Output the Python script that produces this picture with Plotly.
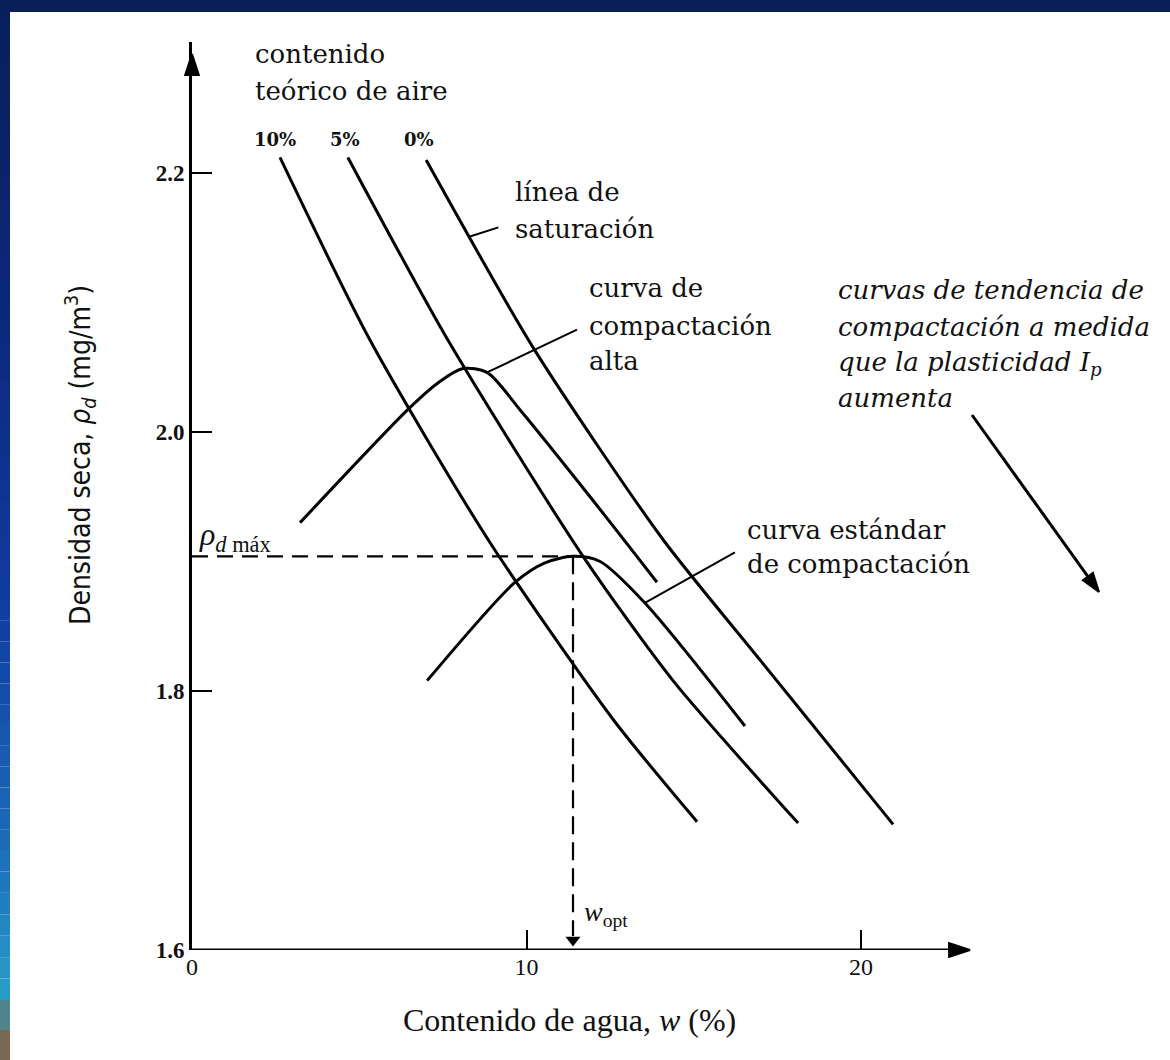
import plotly.graph_objects as go

W, H = 1170, 1060

# ---------------- data ----------------
# theoretical air-content lines (w %, rho_d Mg/m3)
w_air10 = [2.63, 5.32, 8.85, 12.59, 15.10]
rho_air10 = [2.212, 2.071, 1.917, 1.778, 1.699]
w_air5 = [4.66, 7.65, 11.69, 14.38, 18.12]
rho_air5 = [2.212, 2.071, 1.904, 1.808, 1.698]
w_air0 = [7.00, 10.25, 14.08, 16.98, 20.96]
rho_air0 = [2.210, 2.063, 1.917, 1.824, 1.697]
# high compaction curve
w_high = [3.23, 6.52, 7.41, 8.10, 8.82, 9.81, 11.90, 13.90]
rho_high = [1.930, 2.019, 2.039, 2.049, 2.046, 2.017, 1.950, 1.884]
# standard compaction curve
w_std = [7.03, 9.66, 10.55, 11.39, 12.20, 13.54, 16.53]
rho_std = [1.808, 1.884, 1.899, 1.904, 1.900, 1.868, 1.773]
# optimum
rho_d_max = 1.904
w_opt = 11.39
# axes
x_ticks = [0, 10, 20]
y_ticks = [1.6, 1.8, 2.0, 2.2]
air_labels = ["10%", "5%", "0%"]

# ---------------- geometry helpers ----------------
X0_PX, PX_PER_W = 192, 33.45
Y0_PX, Y_TOP_PX, PX_PER_RHO = 950, 42, 1295.0
X_ARROW_PX = 972
x_range = [0, (W - X0_PX) / PX_PER_W]
y_range = [1.6, 1.6 + (Y0_PX - Y_TOP_PX) / PX_PER_RHO]
x_axis_end = (X_ARROW_PX - X0_PX) / PX_PER_W


def px(xp):
    return xp / W


def py(yp):
    return 1 - yp / H


def dx(pixels):
    return pixels / PX_PER_W


def dy(pixels):
    return pixels / PX_PER_RHO


SERIF = "DejaVu Serif"
TXT = "#111111"


def arrow_marker(size):
    return dict(symbol=["circle", "arrow"], size=[0, size], color=["#000000", "#000000"], opacity=1,
                line=dict(color="#000000", width=2), angleref="previous")


fig = go.Figure()
line_style = dict(color="black", width=3)
for xs, ys in [(w_air10, rho_air10), (w_air5, rho_air5), (w_air0, rho_air0)]:
    fig.add_trace(go.Scatter(x=xs, y=ys, mode="lines", line=dict(**line_style, shape="spline", smoothing=0.7),
                             hoverinfo="skip"))
for xs, ys in [(w_high, rho_high), (w_std, rho_std)]:
    fig.add_trace(go.Scatter(x=xs, y=ys, mode="lines", line=dict(**line_style, shape="spline", smoothing=0.8),
                             hoverinfo="skip"))
# dashed optimum guides
fig.add_trace(go.Scatter(x=[0, w_opt], y=[rho_d_max, rho_d_max], mode="lines",
                         line=dict(color="black", width=2.2, dash="16px,9px"), hoverinfo="skip"))
fig.add_trace(go.Scatter(x=[w_opt, w_opt], y=[rho_d_max, 1.6 + dy(14)], mode="lines",
                         line=dict(color="black", width=2.2, dash="18px,8px"), hoverinfo="skip"))
# arrowhead of w_opt
fig.add_trace(go.Scatter(x=[w_opt], y=[1.6 + dy(10)], mode="markers", cliponaxis=False,
                         marker=dict(symbol="triangle-down", size=13, color="#000000", opacity=1),
                         hoverinfo="skip"))

# x axis line with arrow
fig.add_trace(go.Scatter(x=[0, x_axis_end - dx(2)], y=[1.6, 1.6], mode="lines+markers", cliponaxis=False,
                         line=dict(color="black", width=3), marker=arrow_marker(22), hoverinfo="skip"))
# y axis arrow head
fig.add_trace(go.Scatter(x=[0, 0], y=[y_range[1] - dy(40), y_range[1] - dy(12)], mode="markers",
                         cliponaxis=False, marker=arrow_marker(22), hoverinfo="skip"))
# trend arrow (plasticity increases)
trend_x = [x_axis_end + dx(0), x_axis_end + dx(127)]
trend_y = [1.6 + dy(535), 1.6 + dy(358)]
fig.add_trace(go.Scatter(x=trend_x, y=trend_y, mode="lines+markers", cliponaxis=False,
                         line=dict(color="black", width=3), marker=arrow_marker(20), hoverinfo="skip"))

shapes = []
# leader lines (point on curve -> near label)
leaders = [((8.31, 2.151), (9.16, 2.158)),
           ((8.82, 2.046), (11.51, 2.079)),
           ((13.54, 1.868), (16.23, 1.907))]
for (tx, ty), (hx, hy) in leaders:
    shapes.append(dict(type="line", xref="x", yref="y", x0=tx, y0=ty, x1=hx, y1=hy,
                       line=dict(color="black", width=2)))

ann = []


def text_block(lines, x_left, y_centers, size=26, italic=False, family=SERIF, weight="normal"):
    for t, yc in zip(lines, y_centers):
        if italic:
            t = "<i>" + t + "</i>"
        ann.append(dict(x=px(x_left), y=py(yc), xref="paper", yref="paper", text=t, showarrow=False,
                        xanchor="left", yanchor="middle",
                        font=dict(family=family, size=size, color=TXT, weight=weight)))


text_block(["contenido", "teórico de aire"], 253, [54, 91])
text_block(["línea de", "saturación"], 513, [192, 229])
text_block(["curva de", "compactación", "alta"], 587, [288, 326, 361])
text_block(["curva estándar", "de compactación"], 745, [530, 564])
text_block(["curvas de tendencia de", "compactación a medida",
            "que la plasticidad <i>I</i><sub>p</sub>", "aumenta"], 836, [290, 327, 363, 398], italic=True)

# air content labels
for lab, xc in zip(air_labels, [275, 345, 419]):
    ann.append(dict(x=px(xc), y=py(140), xref="paper", yref="paper", text=lab, showarrow=False,
                    xanchor="center", yanchor="middle",
                    font=dict(family=SERIF, size=18, color=TXT, weight="bold")))

# rho_d max and w_opt labels
ann.append(dict(x=px(197), y=py(536), xref="paper", yref="paper",
                text="<i>ρ</i><sub><i>d</i> máx</sub>", showarrow=False, xanchor="left", yanchor="middle",
                font=dict(family="Liberation Serif", size=32, color=TXT)))
ann.append(dict(x=px(582), y=py(913), xref="paper", yref="paper",
                text="<i>w</i><sub>opt</sub>", showarrow=False, xanchor="left", yanchor="middle",
                font=dict(family="Liberation Serif", size=28, color=TXT)))

# axis titles
ann.append(dict(x=px(569), y=py(1020), xref="paper", yref="paper",
                text="Contenido de agua, <i>w</i> (%)", showarrow=False, xanchor="center", yanchor="middle",
                font=dict(family="Liberation Serif", size=32, color=TXT)))
ann.append(dict(x=px(80), y=py(455), xref="paper", yref="paper", textangle=-90,
                text="Densidad seca, <i>ρ<sub>d</sub></i> (mg/m<sup>3</sup>)", showarrow=False,
                xanchor="center", yanchor="middle",
                font=dict(family="DejaVu Sans Condensed, Liberation Sans Narrow, Roboto", size=28, color=TXT)))

# frame (top band + left gradient band)
shapes.append(dict(type="rect", xref="paper", yref="paper", x0=0, x1=1, y0=py(12), y1=1,
                   fillcolor="#0a1e5a", line=dict(width=0), layer="above"))
stops = [(0, (10, 30, 90)), (300, (12, 40, 120)), (600, (16, 60, 160)), (850, (30, 110, 185)),
         (1000, (40, 160, 200)), (1030, (120, 105, 80)), (1060, (120, 105, 80))]
seg = 20
for i in range(len(stops) - 1):
    (ya, ca), (yb, cb) = stops[i], stops[i + 1]
    n = max(1, int((yb - ya) / seg))
    for k in range(n):
        y0 = ya + (yb - ya) * k / n
        y1 = ya + (yb - ya) * (k + 1) / n
        t = (k + 0.5) / n
        c = tuple(int(ca[j] + (cb[j] - ca[j]) * t) for j in range(3))
        shapes.append(dict(type="rect", xref="paper", yref="paper", x0=0, x1=px(10), y0=py(y1), y1=py(y0),
                           fillcolor="rgb(%d,%d,%d)" % c, line=dict(width=0), layer="above"))

fig.update_layout(
    width=W, height=H, margin=dict(l=0, r=0, t=0, b=0),
    paper_bgcolor="white", plot_bgcolor="white", showlegend=False,
    annotations=ann, shapes=shapes,
    xaxis=dict(domain=[px(X0_PX), 1], range=x_range, showgrid=False, zeroline=False,
               showline=False, ticks="inside", ticklen=20, tickwidth=2,
               tickcolor="black", tickvals=x_ticks, ticktext=[str(v) for v in x_ticks],
               tickfont=dict(family="Liberation Serif", size=24, color=TXT), automargin=False, fixedrange=True),
    yaxis=dict(domain=[1 - Y0_PX / H, 1 - Y_TOP_PX / H], range=y_range, showgrid=False, zeroline=False,
               showline=True, linecolor="black", linewidth=3, ticks="inside", ticklen=20, tickwidth=2,
               tickcolor="black", tickvals=y_ticks, ticktext=["%.1f" % v for v in y_ticks],
               tickfont=dict(family="Liberation Serif", size=23, color=TXT, weight="bold"),
               automargin=False, fixedrange=True),
)

fig.write_html("out.html", config={"displayModeBar": False},
               post_script="document.body.style.margin='0';document.body.style.overflow='hidden';")
